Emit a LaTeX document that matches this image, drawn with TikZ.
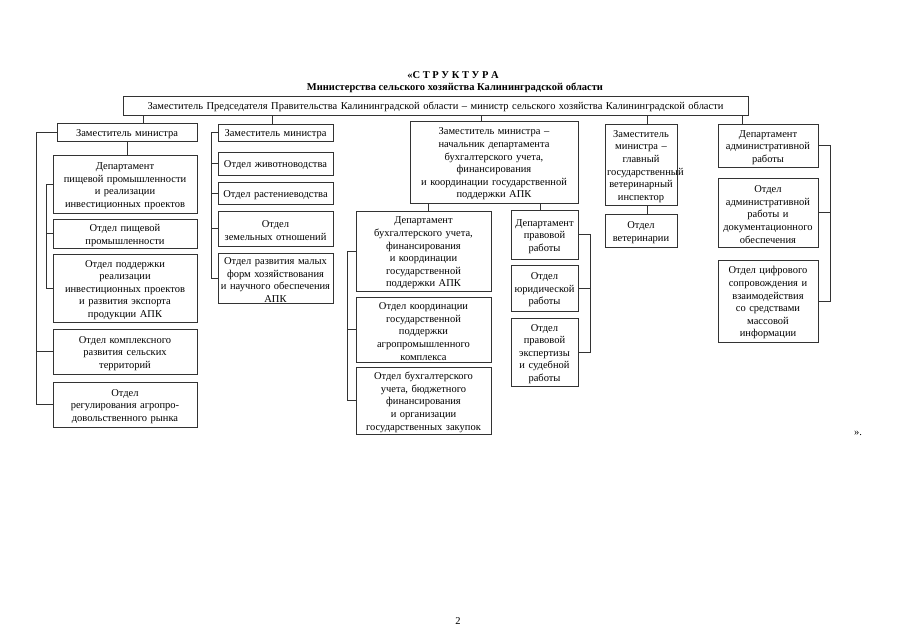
\documentclass[tikz,border=0pt]{standalone}
\usepackage{fontspec}
\setmainfont{Liberation Serif}
\newcommand{\fs}{\fontsize{10.5}{12.6}\selectfont}
\tikzset{
  bx/.style={draw=black!80, line width=0.8pt, align=center, inner xsep=2pt, inner ysep=0pt, font=\fs, execute at begin node={\rule{0pt}{11pt}}},
  ln/.style={draw=black!80, line width=0.8pt},
  ttl/.style={font=\bfseries\fs, inner sep=0pt}
}
\begin{document}
\begin{tikzpicture}[x=1pt,y=-1pt]
\useasboundingbox (0,0) rectangle (905,640);
\fill[white] (0,0) rectangle (905,640);

% titles
\node[ttl] (t1) at (453,75) {«С Т Р У К Т У Р А};
\node[ttl] (t2) at (455,88) {Министерства сельского хозяйства Калининградской области};

% top box
\node[bx, text width=621pt, minimum height=19pt] (top) at (435.5,105.5)
  {Заместитель Председателя Правительства Калининградской области – министр сельского хозяйства Калининградской области};

% column 1
\node[bx, text width=136pt, minimum height=18pt] (d1) at (127,132) {Заместитель министра};
\node[bx, text width=140pt, minimum height=58pt] (dep1) at (125,184) {Департамент\\пищевой промышленности\\и реализации\\инвестиционных проектов};
\node[bx, text width=140pt, minimum height=29pt] (o11) at (125,233.5) {Отдел пищевой\\промышленности};
\node[bx, text width=140pt, minimum height=68pt] (o12) at (125,288) {Отдел поддержки\\реализации\\инвестиционных проектов\\и развития экспорта\\продукции АПК};
\node[bx, text width=140pt, minimum height=45pt] (o13) at (125,351.5) {Отдел комплексного\\развития сельских\\территорий};
\node[bx, text width=140pt, minimum height=45pt] (o14) at (125,404.5) {Отдел\\регулирования агропро-\\довольственного рынка};

% column 2
\node[bx, text width=111pt, minimum height=17pt] (d2) at (275.5,132.5) {Заместитель министра};
\node[bx, text width=111pt, minimum height=23pt] (o21) at (275.5,163.5) {Отдел животноводства};
\node[bx, text width=111pt, minimum height=22pt] (o22) at (275.5,193) {Отдел растениеводства};
\node[bx, text width=111pt, minimum height=35pt] (o23) at (275.5,228.5) {Отдел\\земельных отношений};
\node[bx, text width=111pt, minimum height=50pt] (o24) at (275.5,278) {Отдел развития малых\\форм хозяйствования\\и научного обеспечения\\АПК};

% column 3
\node[bx, text width=164pt, minimum height=82pt] (d3) at (494,162) {Заместитель министра –\\начальник департамента\\бухгалтерского учета,\\финансирования\\и координации государственной\\поддержки АПК};
\node[bx, text width=131pt, minimum height=80pt] (dep3) at (423.5,251) {Департамент\\бухгалтерского учета,\\финансирования\\и координации\\государственной\\поддержки АПК};
\node[bx, text width=131pt, minimum height=65pt] (o31) at (423.5,329.5) {Отдел координации\\государственной\\поддержки\\агропромышленного\\комплекса};
\node[bx, text width=131pt, minimum height=67pt] (o32) at (423.5,400.5) {Отдел бухгалтерского\\учета, бюджетного\\финансирования\\и организации\\государственных закупок};
\node[bx, text width=63pt, minimum height=49pt] (dep3b) at (544.5,234.5) {Департамент\\правовой\\работы};
\node[bx, text width=63pt, minimum height=46pt] (o33) at (544.5,288) {Отдел\\юридической\\работы};
\node[bx, text width=63pt, minimum height=68pt] (o34) at (544.5,352) {Отдел\\правовой\\экспертизы\\и судебной\\работы};

% column 4
\node[bx, text width=68pt, minimum height=81pt] (d4) at (641,164.5) {Заместитель\\министра –\\главный\\государственный\\ветеринарный\\инспектор};
\node[bx, text width=68pt, minimum height=33pt] (o41) at (641,230.5) {Отдел\\ветеринарии};

% column 5
\node[bx, text width=96pt, minimum height=43pt] (d5) at (768,145.5) {Департамент\\административной\\работы};
\node[bx, text width=96pt, minimum height=69pt] (o51) at (768,212.5) {Отдел\\административной\\работы и\\документационного\\обеспечения};
\node[bx, text width=96pt, minimum height=82pt] (o52) at (768,301) {Отдел цифрового\\сопровождения и\\взаимодействия\\со средствами\\массовой\\информации};

% misc text
\node[font=\fs, inner sep=0pt] (qe) at (858,433) {».};
\node[font=\fs, inner sep=0pt] (pg) at (458,621) {2};

% helper x positions
\coordinate (x1) at (143,0);
\coordinate (x2) at (272,0);
\coordinate (x3) at (481,0);
\coordinate (x4) at (647,0);
\coordinate (x5) at (742,0);
\coordinate (l1o) at (36,0);
\coordinate (l1i) at (46,0);
\coordinate (l2) at (211,0);
\coordinate (l3) at (347,0);
\coordinate (r3) at (590,0);
\coordinate (r5) at (830,0);
\coordinate (x3a) at (428,0);
\coordinate (x3b) at (540,0);

% connectors from top box
\draw[ln] (top.south -| x1) -- (d1.north -| x1);
\draw[ln] (top.south -| x2) -- (d2.north -| x2);
\draw[ln] (top.south -| x3) -- (d3.north -| x3);
\draw[ln] (top.south -| x4) -- (d4.north -| x4);
\draw[ln] (top.south -| x5) -- (d5.north -| x5);

% column 1
\draw[ln] (d1.south) -- (dep1.north -| d1.south);
\draw[ln] (d1.west) -- (d1.west -| l1o) |- (o14.west);
\draw[ln] (o13.west -| l1o) -- (o13.west);
\draw[ln] (dep1.west) -- (dep1.west -| l1i) |- (o12.west);
\draw[ln] (o11.west -| l1i) -- (o11.west);

% column 2
\draw[ln] (d2.west) -- (d2.west -| l2) |- (o24.west);
\draw[ln] (o21.west -| l2) -- (o21.west);
\draw[ln] (o22.west -| l2) -- (o22.west);
\draw[ln] (o23.west -| l2) -- (o23.west);

% column 3
\draw[ln] (d3.south -| x3a) -- (dep3.north -| x3a);
\draw[ln] (d3.south -| x3b) -- (dep3b.north -| x3b);
\draw[ln] (dep3.west) -- (dep3.west -| l3) |- (o32.west);
\draw[ln] (o31.west -| l3) -- (o31.west);
\draw[ln] (dep3b.east) -- (dep3b.east -| r3) |- (o34.east);
\draw[ln] (o33.east -| r3) -- (o33.east);

% column 4
\draw[ln] (d4.south -| x4) -- (o41.north -| x4);

% column 5
\draw[ln] (d5.east) -- (d5.east -| r5) |- (o52.east);
\draw[ln] (o51.east -| r5) -- (o51.east);
\end{tikzpicture}
\end{document}
